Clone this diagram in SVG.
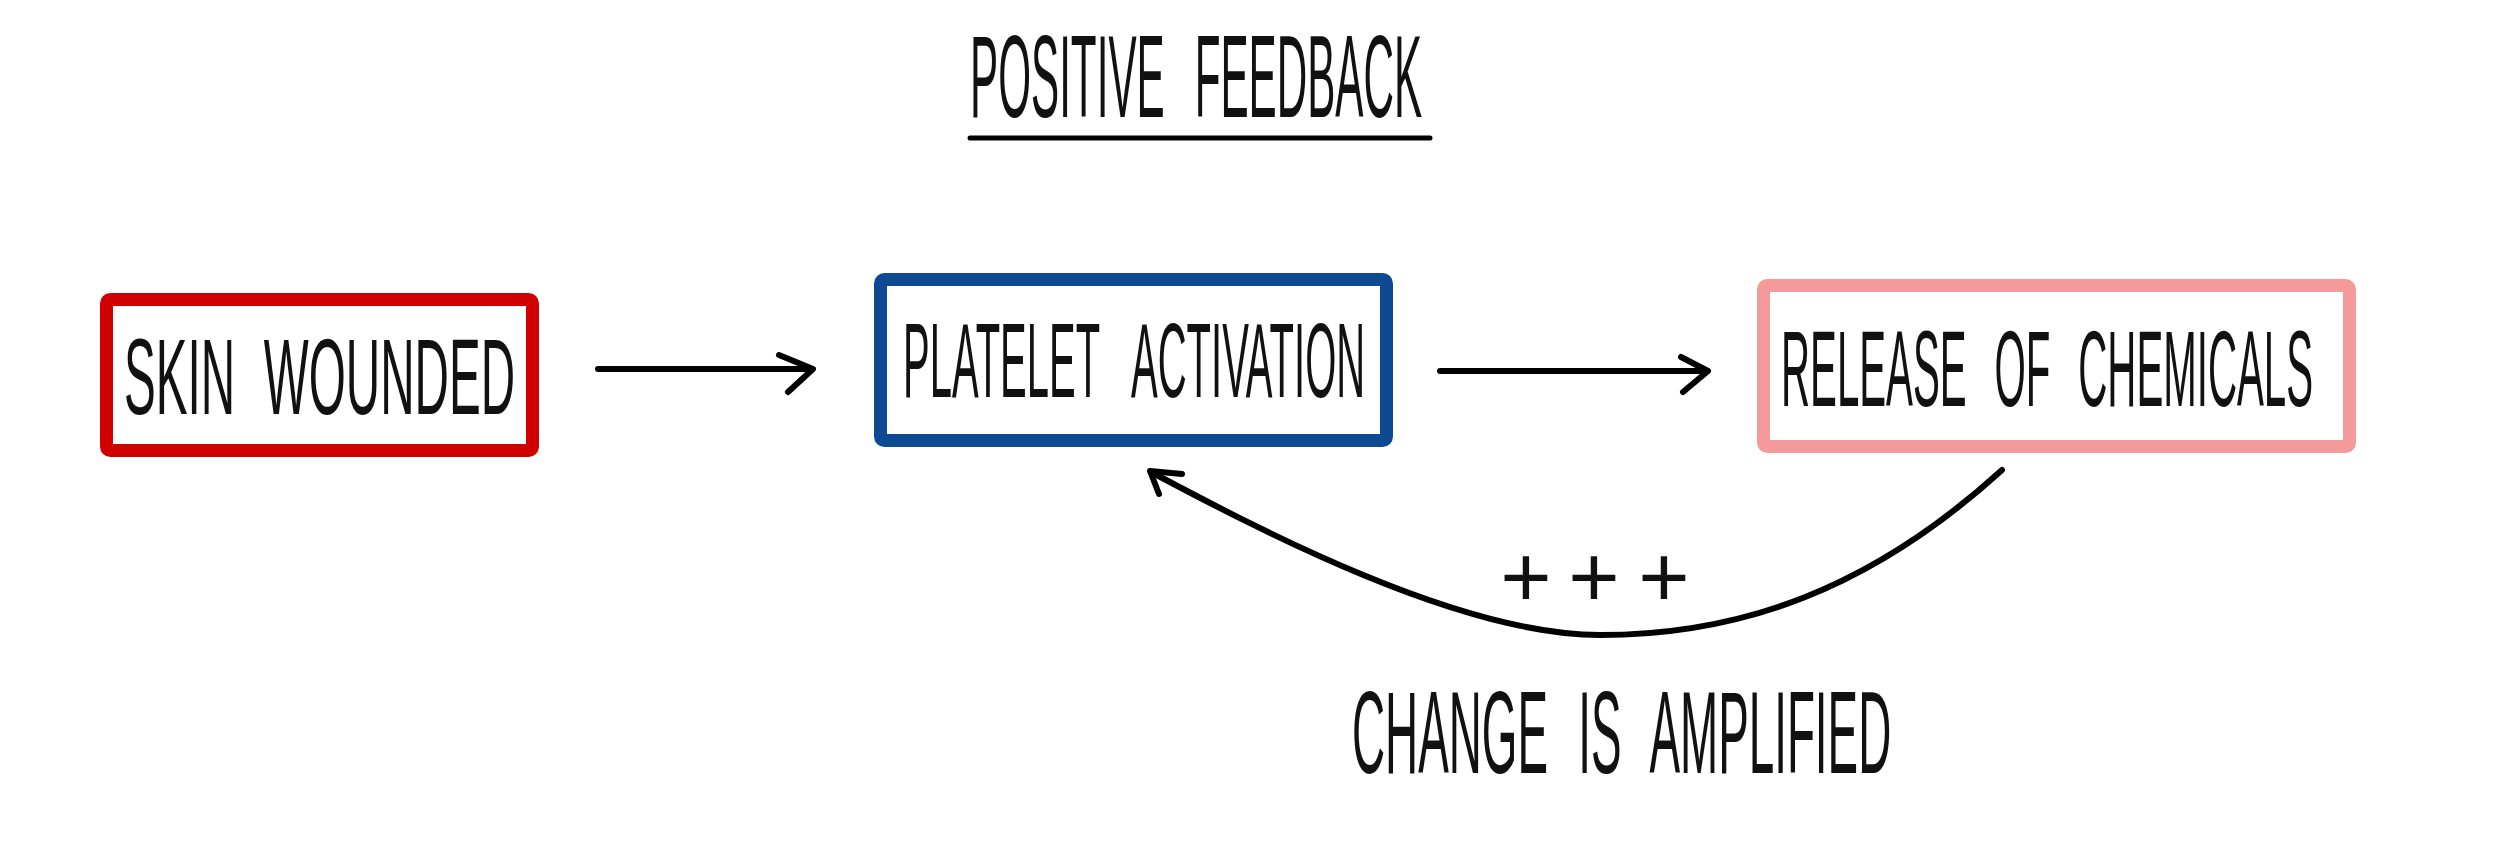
<svg xmlns="http://www.w3.org/2000/svg" width="2500" height="846" viewBox="0 0 2500 846">
  <style>
    .hand { font-family: "Liberation Sans", "DejaVu Sans", sans-serif; fill: #111; }
    .box { fill: #ffffff; stroke-width: 13; }
    .ink { fill: none; stroke: #000; stroke-width: 6; stroke-linecap: round; stroke-linejoin: round; }
  </style>
  <rect x="0" y="0" width="2500" height="846" fill="#ffffff"/>

  <g id="title">
    <text class="hand" transform="translate(970,117) scale(0.364,1)" x="0" y="0" font-size="116" word-spacing="50">POSITIVE FEEDBACK</text>
    <line x1="970" y1="138" x2="1430" y2="138" stroke="#000" stroke-width="5" stroke-linecap="round"/>
  </g>

  <g id="node-skin-wounded">
    <rect class="box" x="106.5" y="299.5" width="426" height="151" rx="4" stroke="#d00000"/>
    <text class="hand" transform="translate(124,414) scale(0.441,1)" x="0" y="0" font-size="108" word-spacing="35">SKIN WOUNDED</text>
  </g>

  <g id="node-platelet-activation">
    <rect class="box" x="880.5" y="279.5" width="506" height="161" rx="4" stroke="#0d4a92"/>
    <text class="hand" transform="translate(903,397) scale(0.3775,1)" x="0" y="0" font-size="106" word-spacing="60">PLATELET ACTIVATION</text>
  </g>

  <g id="node-release-of-chemicals">
    <rect class="box" x="1763.5" y="285.5" width="586" height="161" rx="4" stroke="#f59a9a"/>
    <text class="hand" transform="translate(1781,406) scale(0.3725,1)" x="0" y="0" font-size="108" word-spacing="45">RELEASE OF CHEMICALS</text>
  </g>

  <g id="connectors">
    <line class="ink" x1="598" y1="369" x2="811" y2="369"/>
    <polyline class="ink" points="779,355 813,369 788,392"/>
    <line class="ink" x1="1440" y1="371" x2="1706" y2="371"/>
    <polyline class="ink" points="1681,357 1708,371 1683,392"/>
    <path class="ink" d="M2002,470 C1870,590 1740,635 1600,635 C1460,635 1260,530 1151,472"/>
    <polyline class="ink" points="1182,474 1150,471 1159,494"/>
  </g>

  <g id="label-plus">
    <text class="hand" x="1526 1560 1594 1629 1664" y="607" font-size="88" text-anchor="middle">+ + +</text>
  </g>

  <g id="label-change">
    <text class="hand" transform="translate(1352,773) scale(0.3916,1)" x="0" y="0" font-size="117" word-spacing="45">CHANGE IS AMPLIFIED</text>
  </g>
</svg>
